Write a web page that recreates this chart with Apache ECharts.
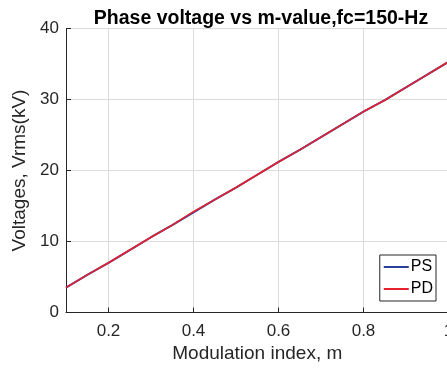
<!DOCTYPE html>
<html><head><meta charset="utf-8">
<script src="https://cdn.jsdelivr.net/npm/echarts@6/dist/echarts.min.js"></script>
<style>html,body{margin:0;padding:0;background:#fff}#c{width:447px;height:368px}</style>
</head><body><div id="c"></div>
<script>
const mValues = [0.10,0.15,0.20,0.25,0.30,0.35,0.40,0.45,0.50,0.55,0.60,0.65,0.70,0.75,0.80,0.85,0.90,0.95,1.00];
const psValues = [3.5,5.3,7.0,8.8,10.6,12.3,14.1,15.9,17.6,19.4,21.2,22.9,24.7,26.5,28.3,29.9,31.7,33.5,35.3];
const pdValues = [3.5,5.3,7.0,8.8,10.6,12.3,14.2,15.9,17.6,19.4,21.2,22.9,24.7,26.5,28.3,29.9,31.7,33.5,35.3];
const xTicks = [0.2,0.4,0.6,0.8,1];
const titleText = 'Phase voltage vs m-value,fc=150-Hz';
const xName = 'Modulation index, m';
const yName = 'Voltages, Vrms(kV)';

const font = 'Liberation Sans, Arial, Helvetica, sans-serif';
const chart = echarts.init(document.getElementById('c'), null, {renderer:'canvas'});
chart.setOption({
  animation:false,
  backgroundColor:'#fff',
  title:{text:titleText,left:256,top:4,textAlign:'center',
    textStyle:{fontFamily:font,fontWeight:'bold',fontSize:19.5,color:'#000'}},
  grid:{left:66,top:28.5,width:382.5,height:284,containLabel:false,outerBoundsMode:'none'},
  legend:{right:11,top:255,orient:'vertical',itemWidth:25,itemHeight:2,itemGap:6,
    backgroundColor:'#fff',borderColor:'#262626',borderWidth:1,padding:[4,3,4,4],
    icon:'rect',textStyle:{fontFamily:font,fontSize:16,color:'#000',padding:[0,0,0,-3]},
    data:['PS','PD']},
  xAxis:{type:'value',min:0.1,max:1,
    name:xName,nameLocation:'middle',nameGap:25,
    nameTextStyle:{fontFamily:font,fontSize:19,color:'#262626'},
    axisLine:{show:true,onZero:false,lineStyle:{color:'#262626',width:1}},
    axisTick:{show:true,inside:true,length:5,customValues:xTicks,lineStyle:{color:'#262626'}},
    axisLabel:{customValues:xTicks,fontFamily:font,fontSize:17,color:'#262626',margin:10,
      formatter:v=>String(+v.toFixed(1))},
    splitLine:{show:true,customValues:xTicks,lineStyle:{color:'#dcdcdc',width:1}}},
  yAxis:{type:'value',min:0,max:40,interval:10,
    name:yName,nameLocation:'middle',nameGap:37,nameRotate:90,
    nameTextStyle:{fontFamily:font,fontSize:19,color:'#262626'},
    axisLine:{show:true,lineStyle:{color:'#262626',width:1}},
    axisTick:{show:true,inside:true,length:5,lineStyle:{color:'#262626'}},
    axisLabel:{fontFamily:font,fontSize:17,color:'#262626',margin:7},
    splitLine:{show:true,lineStyle:{color:'#dcdcdc',width:1}}},
  series:[
    {name:'PS',type:'line',showSymbol:false,symbol:'none',color:'#2b3f9b',
      lineStyle:{width:2,color:'#2b3f9b'},data:mValues.map((m,i)=>[m,psValues[i]])},
    {name:'PD',type:'line',showSymbol:false,symbol:'none',color:'#e8212d',
      lineStyle:{width:1.6,color:'#e8212d'},data:mValues.map((m,i)=>[m,pdValues[i]])}
  ]
});
</script></body></html>
